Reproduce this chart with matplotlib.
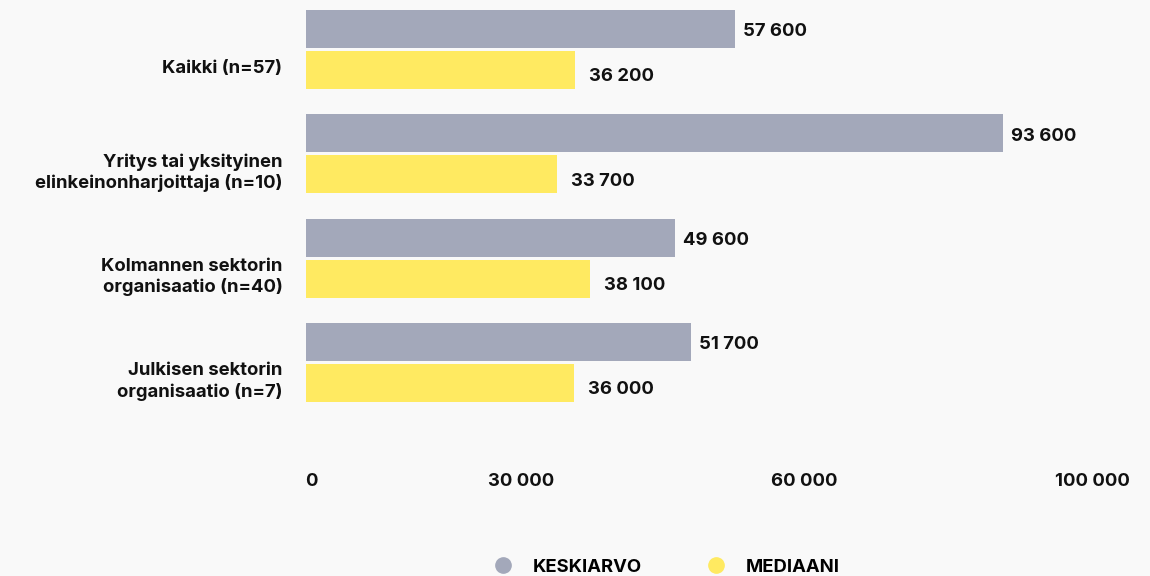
import matplotlib.pyplot as plt
from matplotlib.lines import Line2D

plt.rcParams['font.family'] = ['Inter', 'DejaVu Sans']
plt.rcParams['font.weight'] = 'bold'

# data
categories = ['Kaikki (n=57)',
              'Yritys tai yksityinen\nelinkeinonharjoittaja (n=10)',
              'Kolmannen sektorin\norganisaatio (n=40)',
              'Julkisen sektorin\norganisaatio (n=7)']
keskiarvo = [57600, 93600, 49600, 51700]
mediaani = [36200, 33700, 38100, 36000]
tick_values = [0, 30000, 60000, 100000]
tick_labels = ['0', '30 000', '60 000', '100 000']

GRAY = '#a3a8ba'
YELLOW = '#ffea61'
BG = '#f9f9f9'
FS = 13.3

W, H = 1150, 576
fig = plt.figure(figsize=(W / 100, H / 100), dpi=100, facecolor=BG)
# axes from x=305.5..1130 px, y=0..440 px
ax = fig.add_axes([305.5 / W, 1 - 440 / H, (1130 - 305.5) / W, 440 / H])
ax.set_facecolor(BG)

def fmt(v):
    return f'{v:,}'.replace(',', ' ')

ypos = list(range(len(categories)))
bh = 38 / 104.33
off = 20.5 / 104.33
ax.barh([y - off for y in ypos], keskiarvo, height=bh, color=GRAY)
ax.barh([y + off for y in ypos], mediaani, height=bh, color=YELLOW)

ax.set_xlim(0, (1130 - 305.5) / 7.455 * 1000)
ax.set_ylim((440 - 49.5) / 104.33, -49.5 / 104.33)

for y, v in zip(ypos, keskiarvo):
    ax.annotate(fmt(v), (v, y - off), xytext=(8, -3), textcoords='offset pixels',
                ha='left', va='center', fontsize=FS, color='#111111')
for y, v in zip(ypos, mediaani):
    ax.annotate(fmt(v), (v, y + off), xytext=(14, -7), textcoords='offset pixels',
                ha='left', va='center', fontsize=FS, color='#111111')

# category labels, drawn a bit below the group centre
for y, c in zip(ypos, categories):
    ax.annotate(c, (0, y), xytext=(-23, -19), textcoords='offset pixels',
                ha='right', va='center', fontsize=FS, color='#111111',
                linespacing=1.25)

ax.set_xticks([])
ax.set_yticks([])
for s in ax.spines.values():
    s.set_visible(False)

# x tick labels spread like the original layout
tr = ax.get_xaxis_transform()
ty = (440 - 482) / 440
xmax = ax.get_xlim()[1]
tick_pos = [0, 28900, 66900, xmax]
tick_ha = ['left', 'center', 'center', 'right']
for x, lab, ha in zip(tick_pos, tick_labels, tick_ha):
    ax.text(x, ty, lab, transform=tr, ha=ha, va='center', fontsize=FS,
            color='#111111')

handles = [Line2D([], [], marker='o', ls='', markersize=11, color=GRAY),
           Line2D([], [], marker='o', ls='', markersize=11, color=YELLOW)]
fig.legend(handles, ['KESKIARVO', 'MEDIAANI'], loc='center', ncol=2,
           bbox_to_anchor=(662 / W, 1 - 567 / H), frameon=False,
           fontsize=FS, handletextpad=0.6, columnspacing=3.0)

fig.savefig('out.png', dpi=100, facecolor=BG)
